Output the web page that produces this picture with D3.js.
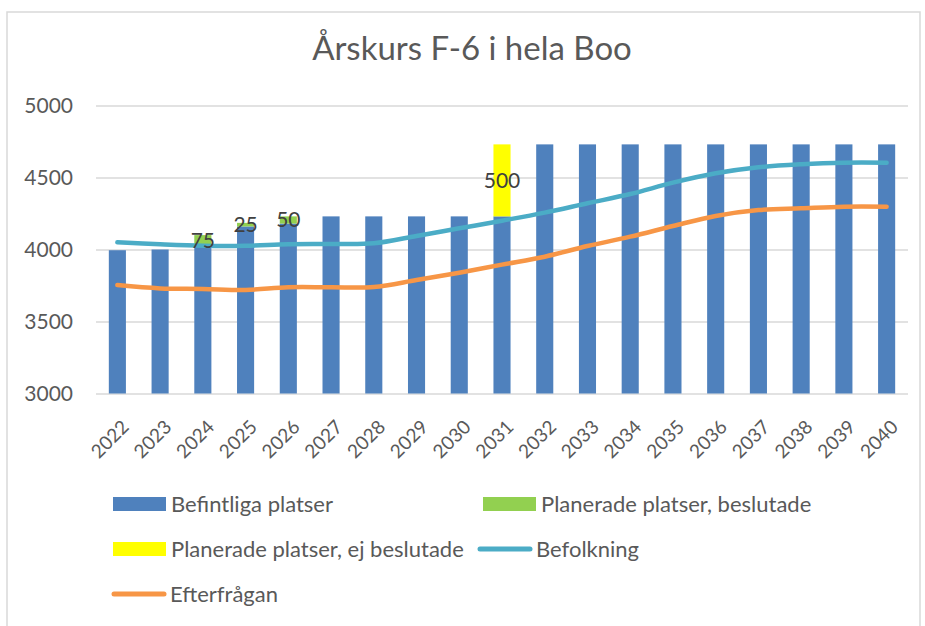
<!DOCTYPE html>
<html>
<head>
<meta charset="utf-8">
<script src="https://cdn.jsdelivr.net/npm/d3@7"></script>
<style>
  body { margin: 0; background: #fff; }
  text { font-family: Lato, "Open Sans", sans-serif; }
</style>
</head>
<body>
<svg width="925" height="626"></svg>
<script>
// data
let years = ["2022", "2023", "2024", "2025", "2026", "2027", "2028", "2029", "2030", "2031",
             "2032", "2033", "2034", "2035", "2036", "2037", "2038", "2039", "2040"];
let befintliga = [3995, 4000, 4025, 4160, 4180, 4230, 4230, 4230, 4230, 4230,
                  4730, 4730, 4730, 4730, 4730, 4730, 4730, 4730, 4730];
let beslutade = [0, 0, 75, 25, 50, 0, 0, 0, 0, 0, 0, 0, 0, 0, 0, 0, 0, 0, 0];
let ejBeslutade = [0, 0, 0, 0, 0, 0, 0, 0, 0, 500, 0, 0, 0, 0, 0, 0, 0, 0, 0];
let befolkning = [4050, 4036, 4026, 4026, 4036, 4038, 4043, 4094, 4147, 4200,
                  4256, 4321, 4385, 4464, 4529, 4571, 4592, 4603, 4603];
let efterfragan = [3753, 3730, 3726, 3719, 3738, 3738, 3740, 3788, 3839, 3895,
                   3950, 4024, 4089, 4163, 4233, 4274, 4286, 4297, 4297];
let yTicks = [3000, 3500, 4000, 4500, 5000];

let svg = d3.select("svg");

// chart frame
svg.append("rect")
    .attr("x", 7).attr("y", 12)
    .attr("width", 913).attr("height", 630)
    .attr("fill", "none")
    .attr("stroke", "#d9d9d9")
    .attr("stroke-width", 1.5);

svg.append("text")
    .attr("x", 472).attr("y", 60)
    .attr("text-anchor", "middle")
    .attr("font-size", 33)
    .attr("fill", "#595959")
    .text("Årskurs F-6 i hela Boo");

let x = d3.scaleBand()
    .domain(years)
    .range([96, 908])
    .paddingInner(0.6)
    .paddingOuter(0.3);

let y = d3.scaleLinear()
    .domain([3000, 5000])
    .range([393.5, 105.5]);

// grid
let yAxis = d3.axisLeft(y)
    .tickValues(yTicks)
    .tickSize(-812)
    .tickPadding(23)
    .tickFormat(d3.format("d"));

let gy = svg.append("g")
    .attr("transform", "translate(96,0)")
    .call(yAxis);
gy.select(".domain").remove();
gy.selectAll("line").attr("stroke", "#d9d9d9").attr("stroke-width", 1.5);
gy.selectAll("text")
    .attr("font-size", 21)
    .attr("fill", "#595959")
    .style("font-family", "Lato, sans-serif");

// x labels, rotated
let gx = svg.append("g")
    .attr("transform", "translate(0,393.5)")
    .call(d3.axisBottom(x).tickSize(0).tickPadding(0));
gx.select(".domain").remove();
gx.selectAll("text")
    .attr("font-size", 19)
    .attr("fill", "#595959")
    .style("font-family", "Lato, sans-serif")
    .attr("text-anchor", "end")
    .attr("dy", "0.35em")
    .attr("y", 0)
    .attr("transform", "translate(8,30) rotate(-45)");

// stacked bars
let rows = years.map(function(yr, i) {
    return { year: yr, befintliga: befintliga[i], beslutade: beslutade[i], ej: ejBeslutade[i] };
});
let keys = ["befintliga", "beslutade", "ej"];
let colors = { befintliga: "#4f81bd", beslutade: "#92d050", ej: "#ffff00" };
let stacked = d3.stack().keys(keys)(rows);

let bars = svg.append("g").attr("class", "bars");
stacked.forEach(function(layer) {
    bars.selectAll(null)
        .data(layer.filter(function(d) { return d[1] > d[0]; }))
        .enter().append("rect")
        .attr("x", function(d) { return x(d.data.year); })
        .attr("width", x.bandwidth())
        .attr("y", function(d) { return y(d[1]); })
        .attr("height", function(d) { return y(Math.max(d[0], 3000)) - y(d[1]); })
        .attr("fill", colors[layer.key]);
});

// lines
let line = d3.line()
    .x(function(d, i) { return x(years[i]) + x.bandwidth() / 2; })
    .y(function(d) { return y(d); })
    .curve(d3.curveCatmullRom);

svg.append("path")
    .datum(efterfragan)
    .attr("d", line)
    .attr("fill", "none")
    .attr("stroke", "#f79646")
    .attr("stroke-width", 4.5)
    .attr("stroke-linecap", "round");

svg.append("path")
    .datum(befolkning)
    .attr("d", line)
    .attr("fill", "none")
    .attr("stroke", "#4bacc6")
    .attr("stroke-width", 4.5)
    .attr("stroke-linecap", "round");

// data labels for planned places
let labelData = stacked.filter(function(l) { return l.key !== "befintliga"; })
    .flatMap(function(l) { return l.filter(function(d) { return d[1] > d[0]; }); });

svg.append("g").selectAll("text")
    .data(labelData)
    .enter().append("text")
    .attr("x", function(d) { return x(d.data.year) + x.bandwidth() / 2; })
    .attr("y", function(d) { return y((d[0] + d[1]) / 2); })
    .attr("dy", "0.35em")
    .attr("text-anchor", "middle")
    .attr("font-size", 21)
    .attr("fill", "#404040")
    .text(function(d) { return d[1] - d[0]; });

// legend
let legend = [
    { label: "Befintliga platser", color: "#4f81bd", type: "rect", lx: 113, ly: 504 },
    { label: "Planerade platser, beslutade", color: "#92d050", type: "rect", lx: 483, ly: 504 },
    { label: "Planerade platser, ej beslutade", color: "#ffff00", type: "rect", lx: 113, ly: 549 },
    { label: "Befolkning", color: "#4bacc6", type: "line", lx: 480, ly: 549 },
    { label: "Efterfrågan", color: "#f79646", type: "line", lx: 114, ly: 594 }
];

let lg = svg.append("g").selectAll("g")
    .data(legend)
    .enter().append("g")
    .attr("transform", function(d) { return "translate(" + d.lx + "," + d.ly + ")"; });

lg.filter(function(d) { return d.type === "rect"; })
    .append("rect")
    .attr("x", 0).attr("y", -7)
    .attr("width", 53).attr("height", 14)
    .attr("fill", function(d) { return d.color; });

lg.filter(function(d) { return d.type === "line"; })
    .append("line")
    .attr("x1", 0).attr("x2", 50)
    .attr("y1", 0).attr("y2", 0)
    .attr("stroke", function(d) { return d.color; })
    .attr("stroke-width", 5)
    .attr("stroke-linecap", "round");

lg.append("text")
    .attr("x", function(d) { return d.type === "rect" ? 58 : 56; })
    .attr("dy", "0.35em")
    .attr("font-size", 22)
    .attr("fill", "#595959")
    .text(function(d) { return d.label; });
</script>
</body>
</html>
